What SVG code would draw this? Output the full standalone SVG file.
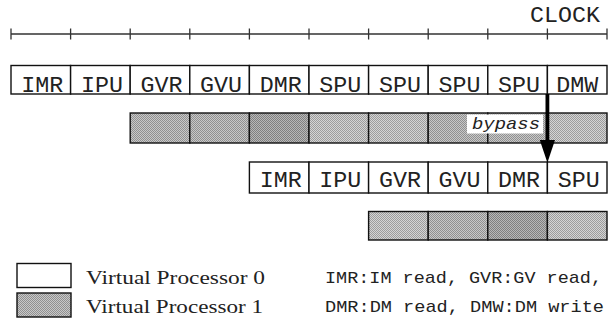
<svg xmlns="http://www.w3.org/2000/svg" width="611" height="321" viewBox="0 0 611 321">
<style>
.w{fill:#fff;stroke:#111;stroke-width:1.4}
.g{fill:url(#dm);stroke:#111;stroke-width:1.4}
.gd{fill:url(#dd);stroke:#111;stroke-width:1.4}
.gl{fill:url(#dl);stroke:#111;stroke-width:1.4}
.t{font-family:"Liberation Mono","DejaVu Sans Mono",monospace;font-size:22px;fill:#222;text-anchor:middle}
.lg{font-family:"Liberation Mono","DejaVu Sans Mono",monospace;font-size:17px;fill:#222}
.vp{font-family:"Liberation Serif","Times New Roman",serif;font-size:19px;fill:#222}
.ax{stroke:#333;stroke-width:1.3;fill:none}
</style>
<defs>
<pattern id="dm" width="2" height="2" patternUnits="userSpaceOnUse">
<rect width="2" height="2" fill="#c8c8c8"/><rect width="1" height="1" fill="#909090"/><rect x="1" y="1" width="1" height="1" fill="#909090"/>
</pattern>
<pattern id="dd" width="2" height="2" patternUnits="userSpaceOnUse">
<rect width="2" height="2" fill="#b8b8b8"/><rect width="1" height="1" fill="#808080"/><rect x="1" y="1" width="1" height="1" fill="#808080"/>
</pattern>
<pattern id="dl" width="2" height="2" patternUnits="userSpaceOnUse">
<rect width="2" height="2" fill="#d4d4d4"/><rect width="1" height="1" fill="#9c9c9c"/><rect x="1" y="1" width="1" height="1" fill="#9c9c9c"/>
</pattern>
<marker id="ah" markerWidth="6" markerHeight="4" refX="0" refY="2" orient="auto" markerUnits="strokeWidth" overflow="visible">
<path d="M0,0 L6,2 L0,4 z" fill="#000"/>
</marker>
</defs>
<g id="clock">
<text x="600" y="22" font-family="Liberation Mono, monospace" font-size="22" fill="#222" text-anchor="end" textLength="70" lengthAdjust="spacingAndGlyphs">CLOCK</text>
<path class="ax" d="M11,34 H607 M11,28.5 V39.5 M70.6,28.5 V39.5 M130.2,28.5 V39.5 M189.8,28.5 V39.5 M249.4,28.5 V39.5 M309,28.5 V39.5 M368.6,28.5 V39.5 M428.2,28.5 V39.5 M487.8,28.5 V39.5 M547.4,28.5 V39.5 M607,28.5 V39.5"/>
</g>
<g id="row0">
<g id="r0c0"><rect class="w" x="11" y="65.5" width="59.6" height="28.5"/><text class="t" x="42.3" y="91.5" textLength="42" lengthAdjust="spacingAndGlyphs">IMR</text></g>
<g id="r0c1"><rect class="w" x="70.6" y="65.5" width="59.6" height="28.5"/><text class="t" x="101.9" y="91.5" textLength="42" lengthAdjust="spacingAndGlyphs">IPU</text></g>
<g id="r0c2"><rect class="w" x="130.2" y="65.5" width="59.6" height="28.5"/><text class="t" x="161.5" y="91.5" textLength="42" lengthAdjust="spacingAndGlyphs">GVR</text></g>
<g id="r0c3"><rect class="w" x="189.8" y="65.5" width="59.6" height="28.5"/><text class="t" x="221.1" y="91.5" textLength="42" lengthAdjust="spacingAndGlyphs">GVU</text></g>
<g id="r0c4"><rect class="w" x="249.4" y="65.5" width="59.6" height="28.5"/><text class="t" x="280.7" y="91.5" textLength="42" lengthAdjust="spacingAndGlyphs">DMR</text></g>
<g id="r0c5"><rect class="w" x="309" y="65.5" width="59.6" height="28.5"/><text class="t" x="340.3" y="91.5" textLength="42" lengthAdjust="spacingAndGlyphs">SPU</text></g>
<g id="r0c6"><rect class="w" x="368.6" y="65.5" width="59.6" height="28.5"/><text class="t" x="399.9" y="91.5" textLength="42" lengthAdjust="spacingAndGlyphs">SPU</text></g>
<g id="r0c7"><rect class="w" x="428.2" y="65.5" width="59.6" height="28.5"/><text class="t" x="459.5" y="91.5" textLength="42" lengthAdjust="spacingAndGlyphs">SPU</text></g>
<g id="r0c8"><rect class="w" x="487.8" y="65.5" width="59.6" height="28.5"/><text class="t" x="519.1" y="91.5" textLength="42" lengthAdjust="spacingAndGlyphs">SPU</text></g>
<g id="r0c9"><rect class="w" x="547.4" y="65.5" width="59.6" height="28.5"/><text class="t" x="577.2" y="91.5" textLength="42" lengthAdjust="spacingAndGlyphs">DMW</text></g>
</g>
<g id="row1">
<g id="r1c0"><rect class="g" x="130.2" y="113" width="59.6" height="30"/></g>
<g id="r1c1"><rect class="g" x="189.8" y="113" width="59.6" height="30"/></g>
<g id="r1c2"><rect class="gd" x="249.4" y="113" width="59.6" height="30"/></g>
<g id="r1c3"><rect class="gl" x="309" y="113" width="59.6" height="30"/></g>
<g id="r1c4"><rect class="gl" x="368.6" y="113" width="59.6" height="30"/></g>
<g id="r1c5"><rect class="g" x="428.2" y="113" width="59.6" height="30"/></g>
<g id="r1c6"><rect class="g" x="487.8" y="113" width="59.6" height="30"/></g>
<g id="r1c7"><rect class="gl" x="547.4" y="113" width="59.6" height="30"/></g>
</g>
<g id="row2">
<g id="r2c0"><rect class="w" x="249.4" y="162" width="59.6" height="31"/><text class="t" x="280.7" y="187" textLength="42" lengthAdjust="spacingAndGlyphs">IMR</text></g>
<g id="r2c1"><rect class="w" x="309" y="162" width="59.6" height="31"/><text class="t" x="340.3" y="187" textLength="42" lengthAdjust="spacingAndGlyphs">IPU</text></g>
<g id="r2c2"><rect class="w" x="368.6" y="162" width="59.6" height="31"/><text class="t" x="399.9" y="187" textLength="42" lengthAdjust="spacingAndGlyphs">GVR</text></g>
<g id="r2c3"><rect class="w" x="428.2" y="162" width="59.6" height="31"/><text class="t" x="459.5" y="187" textLength="42" lengthAdjust="spacingAndGlyphs">GVU</text></g>
<g id="r2c4"><rect class="w" x="487.8" y="162" width="59.6" height="31"/><text class="t" x="519.1" y="187" textLength="42" lengthAdjust="spacingAndGlyphs">DMR</text></g>
<g id="r2c5"><rect class="w" x="547.4" y="162" width="59.6" height="31"/><text class="t" x="578.7" y="187" textLength="42" lengthAdjust="spacingAndGlyphs">SPU</text></g>
</g>
<g id="row3">
<g id="r3c0"><rect class="gl" x="368.6" y="211.5" width="59.6" height="28.5"/></g>
<g id="r3c1"><rect class="g" x="428.2" y="211.5" width="59.6" height="28.5"/></g>
<g id="r3c2"><rect class="gd" x="487.8" y="211.5" width="59.6" height="28.5"/></g>
<g id="r3c3"><rect class="gl" x="547.4" y="211.5" width="59.6" height="28.5"/></g>
</g>
<g id="bypass">
<rect x="467" y="114.5" width="76" height="19" fill="#fff"/>
<text x="472" y="128.5" font-family="Liberation Mono, monospace" font-style="italic" font-size="17" fill="#222" textLength="68" lengthAdjust="spacingAndGlyphs">bypass</text>
</g>
<g id="connectors">
<line x1="547.4" y1="94" x2="547.4" y2="140" stroke="#000" stroke-width="3.8" marker-end="url(#ah)"/>
</g>
<g id="legend">
<g id="leg0"><rect class="w" x="17" y="263.5" width="54" height="24"/><text class="vp" x="86" y="283.5" textLength="179" lengthAdjust="spacingAndGlyphs">Virtual Processor 0</text></g>
<g id="leg1"><rect class="g" x="17" y="293" width="54" height="24"/><text class="vp" x="86" y="312.5" textLength="177" lengthAdjust="spacingAndGlyphs">Virtual Processor 1</text></g>
<text class="lg" x="325" y="283" textLength="277" lengthAdjust="spacingAndGlyphs">IMR:IM read, GVR:GV read,</text>
<text class="lg" x="325" y="312" textLength="279" lengthAdjust="spacingAndGlyphs">DMR:DM read, DMW:DM write</text>
</g>
</svg>
